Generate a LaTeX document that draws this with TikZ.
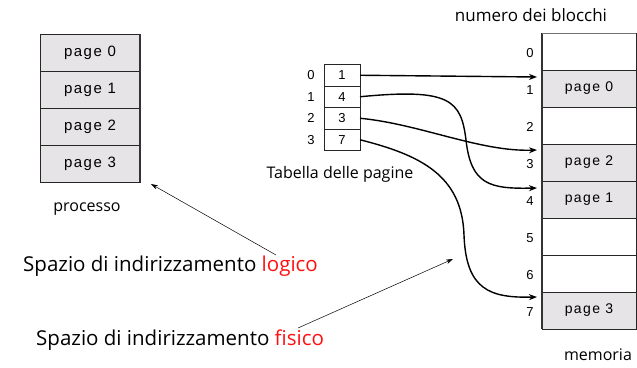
\documentclass[tikz,border=0pt]{standalone}
\usepackage{fontspec}
\usetikzlibrary{arrows.meta}
\setmainfont{Open Sans}
\newfontfamily\helv[LetterSpace=10]{Liberation Sans}
\definecolor{cellgray}{HTML}{E6E4E6}
\definecolor{redword}{HTML}{FF1010}
\begin{document}
\begin{tikzpicture}[x=1pt,y=-1pt,
  pagecell/.style={draw=black!85,line width=0.8pt,fill=cellgray,minimum width=100pt,minimum height=37pt,inner sep=0pt,outer sep=0pt,font=\helv\fontsize{15}{15}\selectfont},
  memcell/.style={draw=black!85,line width=0.8pt,minimum width=94pt,minimum height=37pt,inner sep=0pt,outer sep=0pt,font=\helv\fontsize{14}{14}\selectfont},
  tabcell/.style={draw=black!85,line width=0.8pt,minimum width=36pt,minimum height=21.5pt,inner sep=0pt,outer sep=0pt,font=\helv\fontsize{13}{13}\selectfont},
  idx/.style={font=\helv\fontsize{13}{13}\selectfont,inner sep=0pt},
  lbl/.style={font=\fontsize{16}{16}\selectfont,inner sep=0pt},
  big/.style={font=\fontsize{20.5}{20.5}\selectfont,inner sep=0pt,anchor=west},
  map/.style={line width=1.4pt,-{Stealth[length=8pt,width=6pt]}},
  pointer/.style={line width=0.5pt,-{Stealth[length=7pt,width=4.5pt]}}]
\useasboundingbox (0,0) rectangle (637,367);

% logical address space of the process
\foreach \k in {0,...,3}
  \node[pagecell] (p\k) at (90,{52.5+37*\k}) {page \k};
\draw[line width=1.6pt,black!80] (p0.north east) -- (p3.south east);
\node[lbl] (proc) at (87,209) {processo};

% page table
\foreach \k/\v in {0/1,1/4,2/3,3/7} {
  \node[tabcell] (t\k) at (342,{75.25+21.5*\k}) {\v};
  \node[idx] (i\k) at (311,{75.25+21.5*\k}) {\k};
}
\node[lbl] (tab) at (340,174) {Tabella delle pagine};

% physical memory frames
\foreach \k/\f/\txt in {0/white/,1/cellgray/page 0,2/white/,3/cellgray/page 2,4/cellgray/page 1,5/white/,6/white/,7/cellgray/page 3} {
  \node[memcell,fill=\f] (m\k) at (589,{51.5+37*\k}) {\txt};
  \node[idx] (b\k) at (530,{53+37*\k}) {\k};
}
\draw[line width=1.6pt,black!80] (m0.north west) -- (m7.south west);
\draw[line width=1pt,black!55] (m0.north west) -- (m0.north east);
\node[lbl,font=\fontsize{17}{17}\selectfont] (nb) at (531,15) {numero dei blocchi};
\node[lbl] (mem) at (598,355) {memoria};

% page -> frame mapping
\draw[map] (t0.east) -- ([xshift=-5pt,yshift=-7pt]m1.north west);
\draw[map] (t1.east) .. controls (450,88) and (461,100) .. (466,140)
  .. controls (471,185) and (490,189) .. ([xshift=-5pt,yshift=-7pt]m4.north west);
\draw[map] (t2.east) .. controls (420,124) and (480,152) .. ([xshift=-5pt,yshift=-6pt]m3.north west);
\draw[map] (t3.east) .. controls (420,155) and (462,175) .. (464,235)
  .. controls (466,290) and (490,298) .. ([xshift=-5pt,yshift=-5pt]m7.north west);

% captions
\node[big] (logic) at (23,266) {Spazio di indirizzamento \textcolor{redword}{logico}};
\node[big] (phys) at (36,340) {Spazio di indirizzamento \textcolor{redword}{fisico}};
\coordinate (logstart) at (276,255);
\coordinate (logend) at (151,184);
\coordinate (physstart) at (298,328);
\coordinate (physend) at (453,259);
\draw[pointer] (logstart) -- (logend);
\draw[pointer] (physstart) -- (physend);
\end{tikzpicture}
\end{document}
